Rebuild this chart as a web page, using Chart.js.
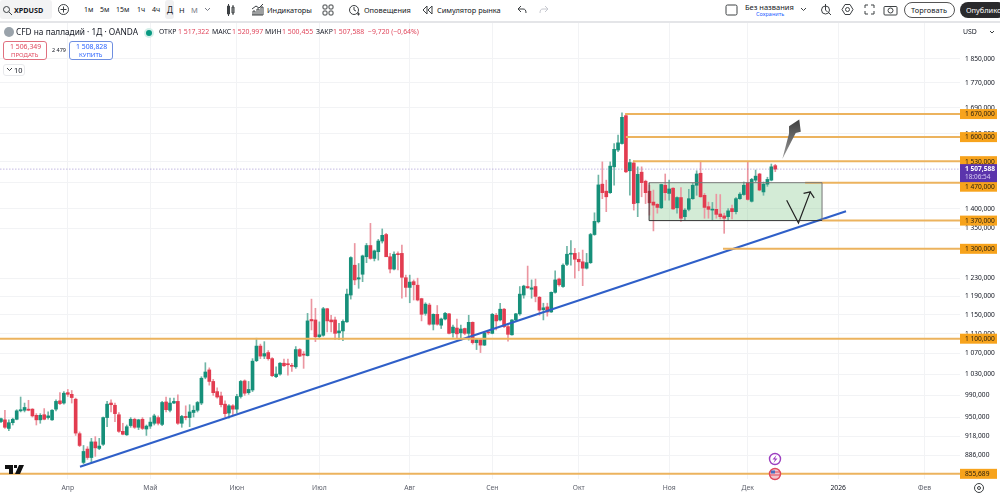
<!DOCTYPE html>
<html lang="ru">
<head>
<meta charset="utf-8">
<title>XPDUSD</title>
<script src="https://cdn.jsdelivr.net/npm/chart.js@4/dist/chart.umd.min.js"></script>
<style>
  html, body { margin: 0; padding: 0; background: #fff; }
  #wrap { position: relative; width: 1000px; height: 495px; overflow: hidden; font-family: "Noto Sans", sans-serif; color: #131722; filter: blur(.3px); }
  canvas { position: absolute; left: 0; top: 0; }
  .t { position: absolute; white-space: nowrap; font-size: 7.4px; line-height: 10px; }
  .v { font-size: 6.9px; }
  .b { font-weight: 700; }
  .red { color: #e0475c; }
  .box { position: absolute; box-sizing: border-box; border-radius: 3px; }
  svg { position: absolute; overflow: visible; fill: none; stroke: #3c4043; stroke-width: 1; }
  #rule { position: absolute; left: 0; top: 21px; width: 1000px; height: 2px; background: #e4e5e8; }
</style>
</head>
<body>
<div id="wrap">
  <canvas id="chart" width="1000" height="495"></canvas>

  <!-- toolbar -->
  <div style="position:absolute;left:0;top:0;width:1000px;height:21px;background:#fff"></div>
  <div id="rule"></div>
  <div class="box" style="left:0;top:0;width:52px;height:19px;background:#f3f3f4"></div>
  <svg style="left:3px;top:6px" width="9" height="9"><circle cx="3.5" cy="3.5" r="3"/><path d="M6 6l3 3"/></svg>
  <span class="t b" style="left:14px;top:5px;font-size:7.2px">XPDUSD</span>
  <svg style="left:58px;top:4px" width="11" height="11"><circle cx="5.5" cy="5.5" r="5"/><path d="M5.5 2.5v6M2.5 5.5h6"/></svg>
  <span class="t" style="left:84px;top:5px;font-size:7px">1м</span>
  <span class="t" style="left:100px;top:5px;font-size:7px">5м</span>
  <span class="t" style="left:116px;top:5px;font-size:7px">15м</span>
  <span class="t" style="left:137px;top:5px;font-size:7px">1ч</span>
  <span class="t" style="left:152px;top:5px;font-size:7px">4ч</span>
  <div class="box" style="left:165px;top:0;width:9px;height:19px;background:#f0f0f1"></div>
  <span class="t" style="left:167px;top:5px;font-size:8px">Д</span>
  <span class="t" style="left:179px;top:5px;font-size:7.500px">Н</span>
  <span class="t" style="left:191px;top:5px;font-size:7.500px;color:#787b86">М</span>
  <svg style="left:205px;top:8px" width="6" height="4"><path d="M0 0l2.5 2.5L5 0" stroke="#787b86"/></svg>
  <svg style="left:226px;top:4px" width="8" height="12"><path d="M1.5 2h2v8h-2zM6 3h2v6H6zM2.5 0v12M7 1v10"/></svg>
  <svg style="left:252px;top:4px" width="12" height="12"><path d="M0 11h11M1 11V7h2v4M5 11V5h2v6M9 11V3h2v8M0 5l4-3 3 2 4-4"/></svg>
  <span class="t" style="left:267px;top:5px">Индикаторы</span>
  <svg style="left:323px;top:5px" width="10" height="10"><rect x="0" y="0" width="4" height="4" rx="1"/><rect x="6" y="0" width="4" height="4" rx="1"/><rect x="0" y="6" width="4" height="4" rx="1"/><rect x="6" y="6" width="4" height="4" rx="1"/></svg>
  <svg style="left:349px;top:4px" width="11" height="12"><circle cx="5" cy="6" r="4.5"/><path d="M5 3v3l2 1M8 10h3M9.500 8.500v3"/></svg>
  <span class="t" style="left:364px;top:5px">Оповещения</span>
  <svg style="left:423px;top:6px" width="9" height="8"><path d="M4 0L0 4l4 4zM9 0L5 4l4 4z"/></svg>
  <span class="t" style="left:437px;top:5px">Симулятор рынка</span>
  <svg style="left:518px;top:6px" width="8" height="7"><path d="M3 0L0 3l3 3M0 3h5c2 0 3 1 3 4"/></svg>
  <svg style="left:540px;top:6px" width="8" height="7"><path d="M5 0l3 3-3 3M8 3H3C1 3 0 4 0 7" stroke="#c6c8cf"/></svg>
  <svg style="left:726px;top:5px" width="12" height="10"><rect x="0" y="0" width="11" height="10" rx="1.500"/></svg>
  <span class="t" style="left:745px;top:2px;font-size:7.500px">Без названия</span>
  <span class="t" style="left:756px;top:9px;font-size:5.500px;color:#2962ff">Сохранить</span>
  <svg style="left:801px;top:8px" width="6" height="4"><path d="M0 0l2.500 2.500L5 0"/></svg>
  <svg style="left:821px;top:4px" width="11" height="12"><circle cx="4.500" cy="6" r="4"/><path d="M4.500 0v6l2 2M7 8l3 3"/></svg>
  <svg style="left:842px;top:4px" width="11" height="11"><path d="M3 .5h5l3 5-3 5H3l-3-5z"/><circle cx="5.500" cy="5.500" r="2"/></svg>
  <svg style="left:865px;top:5px" width="9" height="9"><path d="M0 3V0h3M6 0h3v3M9 6v3H6M3 9H0V6"/></svg>
  <svg style="left:884px;top:5px" width="13" height="10"><rect x="0" y="1.500" width="13" height="8.500" rx="1"/><circle cx="6.500" cy="5.500" r="2.500"/></svg>
  <div class="box" style="left:904px;top:2px;width:51px;height:16px;border:1px solid #555;border-radius:8px"></div>
  <span class="t" style="left:911px;top:5px">Торговать</span>
  <div class="box" style="left:960px;top:2px;width:46px;height:16px;background:#2a2a2c;border-radius:8px"></div>
  <span class="t" style="left:966px;top:5px;color:#fff;width:34px;overflow:hidden">Опубликовать</span>

  <!-- symbol legend -->
  <div class="box" style="left:4px;top:27px;width:10px;height:10px;border-radius:50%;background:#9aa3ab"></div>
  <span class="t" style="left:16px;top:27px;font-size:8.300px">CFD на палладий · 1Д · OANDA</span>
  <div class="box" style="left:146px;top:29.500px;width:6px;height:6px;border-radius:50%;background:#089981;box-shadow:0 0 0 2px #d5efe9"></div>
  <span class="t v" style="left:159px;top:27px">ОТКР</span>
  <span class="t v red" style="left:178px;top:27px">1 517,322</span>
  <span class="t v" style="left:212px;top:27px">МАКС</span>
  <span class="t v red" style="left:232px;top:27px">1 520,997</span>
  <span class="t v" style="left:265px;top:27px">МИН</span>
  <span class="t v red" style="left:282px;top:27px">1 500,455</span>
  <span class="t v" style="left:316px;top:27px">ЗАКР</span>
  <span class="t v red" style="left:333px;top:27px">1 507,588</span>
  <span class="t v red" style="left:368px;top:27px">−9,720 (−0,64%)</span>

  <div class="box" style="left:3px;top:41px;width:44px;height:19px;border:1px solid #e0707f;background:#fff"></div>
  <span class="t v red" style="left:10px;top:41.500px">1 506,349</span>
  <span class="t red" style="left:11px;top:49.500px;font-size:6px">ПРОДАТЬ</span>
  <span class="t" style="left:52px;top:45px;font-size:5.500px">2 479</span>
  <div class="box" style="left:69px;top:41px;width:44px;height:19px;border:1px solid #6f8fe0;background:#fff"></div>
  <span class="t v" style="left:76px;top:41.500px;color:#2962ff">1 508,828</span>
  <span class="t" style="left:79px;top:49.500px;font-size:6px;color:#2962ff">КУПИТЬ</span>
  <div class="box" style="left:3px;top:64px;width:22px;height:12px;border:1px solid #e8e9ec;background:#fff"></div>
  <svg style="left:7px;top:68px" width="5" height="3"><path d="M0 0l2.500 2.500L5 0"/></svg>
  <span class="t" style="left:14px;top:65px">10</span>

  <span class="t v" style="left:963px;top:27px">USD</span>
  <svg style="left:990px;top:31px" width="4" height="3"><path d="M0 0l2 2 2-2"/></svg>

  <!-- logo, event marks, axis button -->
  <svg style="left:5px;top:465px" width="19" height="9"><path d="M0 0h8v9H4V4H0zM10 9l4-9h5l-4 9z M9 0h3v3H9z" fill="#111" stroke="none"/></svg>
  <svg style="left:769px;top:453px" width="12" height="12"><circle cx="6" cy="6" r="5.500" fill="#fff" stroke="#9c3fc0" stroke-width="1.400"/><path d="M7.500 2L3.500 6.500h2.500L4.500 10 8.500 5.500H6z" fill="#9c3fc0" stroke="none"/></svg>
  <svg style="left:769px;top:468px" width="12" height="12"><circle cx="6" cy="6" r="5.500" fill="#f4c6cc" stroke="#e0475c" stroke-width="1.400"/><path d="M1.500 4h9M1 7h10" stroke="#e0475c"/><path d="M2 2.500h4v3H2z" fill="#4a6fc0" stroke="none"/></svg>
  <svg style="left:974px;top:483px" width="10" height="10"><circle cx="5" cy="5" r="4.500"/><circle cx="5" cy="5" r="1.500"/></svg>
</div>

<script>
// candles, daily (USD)
const opens = [
  943, 946, 931, 941, 947, 962, 963, 965, 965, 954,
  946, 955, 950, 946, 965, 980, 976, 995, 992, 983,
  922, 874, 896, 882, 908, 897, 904, 950, 976, 972,
  955, 926, 920, 936, 947, 933, 947, 930, 935, 940,
  950, 938, 978, 963, 976, 979, 940, 952, 950, 959,
  963, 976, 1024, 1038, 1016, 997, 989, 974, 958, 971,
  965, 988, 1017, 995, 1000, 1056, 1085, 1065, 1072, 1060,
  1025, 1030, 1051, 1050, 1046, 1044, 1078, 1069, 1066, 1140,
  1139, 1104, 1107, 1163, 1139, 1139, 1112, 1116, 1135, 1193,
  1261, 1229, 1240, 1281, 1308, 1277, 1293, 1319, 1335, 1281,
  1252, 1288, 1289, 1232, 1210, 1223, 1215, 1185, 1153, 1171,
  1130, 1151, 1128, 1141, 1152, 1112, 1122, 1112, 1121, 1111,
  1134, 1092, 1098, 1087, 1113, 1111, 1149, 1139, 1162, 1125,
  1108, 1139, 1152, 1193, 1212, 1206, 1212, 1188, 1161, 1167,
  1156, 1199, 1229, 1212, 1263, 1287, 1289, 1275, 1269, 1254,
  1267, 1335, 1367, 1466, 1447, 1443, 1514, 1562, 1581, 1665,
  1503, 1525, 1416, 1499, 1474, 1447, 1418, 1412, 1403, 1463,
  1441, 1455, 1403, 1430, 1380, 1399, 1427, 1463, 1496, 1436,
  1406, 1397, 1399, 1387, 1382, 1380, 1401, 1393, 1427, 1438,
  1470, 1420, 1477, 1494, 1445, 1466, 1477, 1517.322
];
const highs = [
  949, 963, 946, 949, 964, 987, 976, 981, 966, 957,
  957, 966, 960, 964, 982, 995, 997, 1001, 999, 985,
  925, 902, 900, 914, 917, 914, 951, 979, 982, 976,
  959, 940, 937, 950, 949, 947, 950, 937, 950, 956,
  953, 979, 987, 985, 985, 991, 954, 971, 973, 971,
  979, 1025, 1052, 1042, 1020, 1004, 996, 980, 973, 973,
  992, 1018, 1019, 1016, 1060, 1101, 1089, 1094, 1076, 1062,
  1044, 1052, 1059, 1059, 1051, 1084, 1080, 1074, 1153, 1184,
  1164, 1135, 1166, 1164, 1149, 1145, 1132, 1139, 1206, 1281,
  1313, 1265, 1285, 1313, 1363, 1297, 1323, 1349, 1338, 1289,
  1293, 1293, 1309, 1238, 1238, 1227, 1231, 1186, 1176, 1175,
  1152, 1170, 1143, 1155, 1153, 1128, 1141, 1128, 1122, 1149,
  1135, 1100, 1100, 1113, 1115, 1153, 1153, 1175, 1164, 1132,
  1140, 1153, 1212, 1215, 1259, 1227, 1229, 1190, 1175, 1175,
  1200, 1248, 1231, 1264, 1306, 1320, 1301, 1291, 1297, 1289,
  1338, 1390, 1491, 1528, 1477, 1528, 1581, 1606, 1674, 1670,
  1535, 1531, 1514, 1514, 1477, 1463, 1450, 1414, 1466, 1494,
  1477, 1457, 1432, 1457, 1401, 1452, 1468, 1503, 1530, 1441,
  1418, 1417, 1439, 1438, 1389, 1401, 1410, 1430, 1443, 1472,
  1528, 1482, 1505, 1496, 1472, 1485, 1522, 1520.997
];
const lows = [
  941, 931, 927, 937, 946, 960, 960, 962, 951, 937,
  940, 946, 947, 945, 962, 973, 974, 988, 976, 919,
  900, 872, 879, 873, 884, 895, 902, 934, 960, 943,
  924, 920, 919, 933, 931, 929, 929, 919, 931, 937,
  937, 936, 960, 960, 975, 938, 933, 946, 934, 951,
  960, 973, 1021, 1009, 990, 985, 969, 951, 949, 955,
  958, 985, 990, 992, 997, 1054, 1060, 1060, 1057, 1025,
  1023, 1028, 1045, 1028, 1035, 1041, 1064, 1041, 1065, 1118,
  1094, 1100, 1105, 1114, 1114, 1098, 1098, 1096, 1134, 1184,
  1216, 1208, 1223, 1267, 1275, 1271, 1273, 1314, 1281, 1243,
  1250, 1250, 1186, 1189, 1176, 1182, 1180, 1137, 1149, 1128,
  1118, 1128, 1121, 1139, 1110, 1103, 1101, 1097, 1108, 1097,
  1089, 1078, 1072, 1086, 1109, 1110, 1118, 1137, 1123, 1095,
  1107, 1137, 1149, 1186, 1208, 1186, 1178, 1149, 1139, 1147,
  1155, 1197, 1213, 1210, 1260, 1261, 1231, 1248, 1214, 1252,
  1265, 1333, 1364, 1427, 1393, 1441, 1463, 1557, 1579, 1498,
  1436, 1397, 1380, 1432, 1414, 1384, 1344, 1389, 1401, 1423,
  1423, 1399, 1389, 1368, 1372, 1395, 1425, 1436, 1431, 1376,
  1376, 1372, 1376, 1374, 1338, 1370, 1374, 1387, 1425, 1436,
  1423, 1418, 1472, 1448, 1436, 1460, 1475, 1500.455
];
const closes = [
  948, 933, 941, 947, 962, 964, 968, 963, 953, 946,
  954, 947, 953, 963, 979, 975, 994, 992, 986, 923,
  902, 892, 882, 908, 898, 901, 950, 974, 973, 957,
  926, 921, 934, 947, 933, 946, 931, 935, 942, 953,
  940, 977, 964, 976, 979, 940, 952, 950, 960, 963,
  977, 1022, 1034, 1016, 995, 987, 973, 957, 971, 965,
  988, 1016, 994, 1001, 1055, 1085, 1065, 1070, 1060, 1027,
  1030, 1051, 1046, 1048, 1045, 1078, 1065, 1067, 1137, 1137,
  1104, 1108, 1163, 1137, 1135, 1111, 1116, 1136, 1195, 1279,
  1227, 1232, 1283, 1308, 1277, 1295, 1319, 1333, 1281, 1252,
  1287, 1286, 1233, 1210, 1222, 1216, 1182, 1151, 1173, 1130,
  1151, 1130, 1141, 1153, 1111, 1124, 1110, 1120, 1111, 1134,
  1092, 1098, 1087, 1112, 1112, 1151, 1137, 1162, 1125, 1109,
  1139, 1152, 1195, 1213, 1209, 1209, 1190, 1160, 1165, 1156,
  1199, 1227, 1216, 1261, 1287, 1289, 1275, 1269, 1254, 1267,
  1335, 1368, 1464, 1443, 1432, 1516, 1564, 1583, 1660, 1500,
  1526, 1414, 1493, 1470, 1443, 1416, 1410, 1404, 1465, 1443,
  1453, 1400, 1430, 1376, 1397, 1427, 1463, 1494, 1432, 1404,
  1399, 1399, 1386, 1380, 1376, 1395, 1393, 1427, 1439, 1463,
  1425, 1479, 1488, 1450, 1466, 1479, 1514, 1507.588
];

// axes
const priceTicks = [1850, 1770, 1690, 1610, 1530, 1470, 1400, 1350, 1230, 1190, 1150, 1110, 1070, 1030, 990, 950, 918, 886];
const monthTicks = [17, 38, 60, 81, 104, 125, 147, 170, 190, 213, 235];
const monthLabels = ["Апр", "Май", "Июн", "Июл", "Авг", "Сен", "Окт", "Ноя", "Дек", "2026", "Фев"];
const xMin = -0.25, xMax = 244;
const priceMin = 847.5, priceMax = 1981.7;

// drawn levels: price and the bar each one starts from
const levelPrices = [1670, 1600, 1530, 1470, 1370, 1300, 1100, 855.689];
const levelStarts = [158.8, 159, 160.8, 204.6, 208.9, 183.7, xMin, xMin];

// last price
const lastPrice = 1507.588;
const lastCountdown = "18:06:54";

// trend line
const trendX = [20.1, 215];
const trendY = [867, 1394];

// range box
const boxX = [164.9, 208.9];
const boxY = [1470, 1370];

// black V arrow
const swingX = [199.9, 202.9, 205.9, 204.2, 205.9, 206.9];
const swingY = [1423, 1364, 1445, 1441, 1445, 1429];

// grey target arrow
const arrowX = [198.8, 202.2, 203.5, 203.1, 200.5, 200.5];
const arrowY = [1536, 1612, 1616, 1653, 1633, 1611];

const GREEN = "#16907a", RED = "#e23c50";
const GREEN_WICK = "#6fb5a6", RED_WICK = "#eb96a1";
const ORANGE_LINE = "#ecb35e", ORANGE_TAG = "#f7a31c";

function fmtPrice(v) {
  const [a, b] = v.toFixed(3).split(".");
  return (a.length > 3 ? a[0] + " " + a.slice(1) : a) + "," + b;
}

function zip(xs, ys) {
  return xs.map((x, i) => ({ x, y: ys[i] }));
}

const rising = closes.map((c, i) => c >= opens[i]);

const drawings = {
  id: "drawings",
  beforeDatasetsDraw(chart) {
    const { ctx, scales: { x, y } } = chart;
    ctx.save();
    ctx.fillStyle = "rgba(110, 190, 120, 0.3)";
    const l = x.getPixelForValue(boxX[0]), r = x.getPixelForValue(boxX[1]);
    const t = y.getPixelForValue(boxY[0]), b = y.getPixelForValue(boxY[1]);
    ctx.fillRect(l, t, r - l, b - t);
    ctx.restore();
  },
  afterDatasetsDraw(chart) {
    const { ctx, scales: { x, y } } = chart;
    const l = x.getPixelForValue(boxX[0]), r = x.getPixelForValue(boxX[1]);
    const t = y.getPixelForValue(boxY[0]), b = y.getPixelForValue(boxY[1]);
    ctx.save();
    ctx.lineWidth = 1;
    ctx.strokeStyle = "#777";
    ctx.beginPath(); ctx.moveTo(l, t); ctx.lineTo(r, t); ctx.moveTo(r, t); ctx.lineTo(r, b); ctx.stroke();
    ctx.strokeStyle = "#333";
    ctx.beginPath(); ctx.moveTo(r, b); ctx.lineTo(l, b); ctx.lineTo(l, t); ctx.stroke();

    const tipY = y.getPixelForValue(arrowY[3]), tailY = y.getPixelForValue(arrowY[0]);
    const grad = ctx.createLinearGradient(0, tipY, 0, tailY);
    grad.addColorStop(0, "#3f3f3f");
    grad.addColorStop(1, "#9a9a9a");
    ctx.fillStyle = grad;
    ctx.beginPath();
    arrowX.forEach((v, i) => ctx.lineTo(x.getPixelForValue(v), y.getPixelForValue(arrowY[i])));
    ctx.closePath();
    ctx.fill();
    ctx.restore();
  },
  afterDraw(chart) {
    const { ctx, chartArea, scales: { y } } = chart;
    const left = chartArea.right, width = 37;
    ctx.save();
    ctx.textBaseline = "middle";
    ctx.font = '6.6px "Noto Sans"';
    levelPrices.forEach(price => {
      const shift = price === 1470 ? 4 : 0  // pushed down by the last price tag
      const mid = y.getPixelForValue(price) + shift;
      ctx.fillStyle = ORANGE_TAG;
      ctx.fillRect(left, mid - 5, width, 10);
      ctx.fillStyle = "#2b2110";
      ctx.fillText(fmtPrice(price), left + 5, mid + 0.5);
    });
    const mid = y.getPixelForValue(lastPrice);
    ctx.fillStyle = "#5b34ac";
    ctx.fillRect(left, mid - 5, width, 18);
    ctx.fillStyle = "#fff";
    ctx.font = 'bold 6.6px "Noto Sans"';
    ctx.fillText(fmtPrice(lastPrice), left + 5, mid);
    ctx.fillStyle = "#d9cdf2";
    ctx.font = '6.4px "Noto Sans"';
    ctx.fillText(lastCountdown, left + 5, mid + 8.5);
    ctx.restore();
  }
};

const lineBase = { type: "line", pointRadius: 0, fill: false, tension: 0, order: 1 };

const levelSets = levelPrices.map((p, i) => ({
  ...lineBase,
  borderColor: ORANGE_LINE,
  borderWidth: 2,
  data: [{ x: levelStarts[i], y: p }, { x: xMax, y: p }]
}));

new Chart(document.getElementById("chart"), {
  type: "bar",
  data: {
    datasets: [
      {
        order: 3,
        barThickness: 1,
        grouped: false,
        backgroundColor: rising.map(up => up ? GREEN_WICK : RED_WICK),
        data: highs.map((h, i) => ({ x: i, y: [lows[i], h] }))
      },
      {
        order: 2,
        barThickness: 3,
        minBarLength: 1,
        grouped: false,
        backgroundColor: rising.map(up => up ? GREEN : RED),
        data: opens.map((o, i) => ({ x: i, y: [o, closes[i]] }))
      },
      {
        ...lineBase,
        borderColor: "rgba(120, 100, 190, 0.45)",
        borderWidth: 1,
        borderDash: [1.5, 1.5],
        data: [{ x: xMin, y: lastPrice }, { x: xMax, y: lastPrice }]
      },
      ...levelSets,
      { ...lineBase, borderColor: "#2f5fc8", borderWidth: 2, data: zip(trendX, trendY) },
      { ...lineBase, borderColor: "#222", borderWidth: 1.2, data: zip(swingX, swingY) }
    ]
  },
  options: {
    responsive: false,
    animation: false,
    events: [],
    layout: { padding: { top: 22, left: 0, right: 0, bottom: 0 } },
    plugins: { legend: { display: false }, tooltip: { enabled: false } },
    scales: {
      x: {
        type: "linear",
        min: xMin,
        max: xMax,
        bounds: "data",
        offset: false,
        border: { display: false },
        grid: { offset: false, color: "#f2f3f5", drawTicks: false },
        afterBuildTicks: scale => { scale.ticks = monthTicks.map(value => ({ value })) },
        afterFit: scale => { scale.height = 16 },
        ticks: {
          autoSkip: false,
          maxRotation: 0,
          padding: 5,
          font: { family: "Noto Sans", size: 6.8 },
          color: ctx => ctx.tick.value === 213 ? "#131722" : "#5d606b",
          callback: value => monthLabels[monthTicks.indexOf(value)]
        }
      },
      y: {
        type: "logarithmic",
        position: "right",
        min: priceMin,
        max: priceMax,
        bounds: "data",
        beginAtZero: false,
        border: { display: false },
        grid: { color: "#f2f3f5", drawTicks: false },
        afterBuildTicks: scale => { scale.ticks = priceTicks.map(value => ({ value })) },
        afterFit: scale => { scale.width = 40 },
        ticks: {
          autoSkip: false,
          padding: 5,
          color: "#131722",
          font: { family: "Noto Sans", size: 6.6 },
          callback: value => fmtPrice(value)
        }
      }
    }
  },
  plugins: [drawings]
});
</script>
</body>
</html>
